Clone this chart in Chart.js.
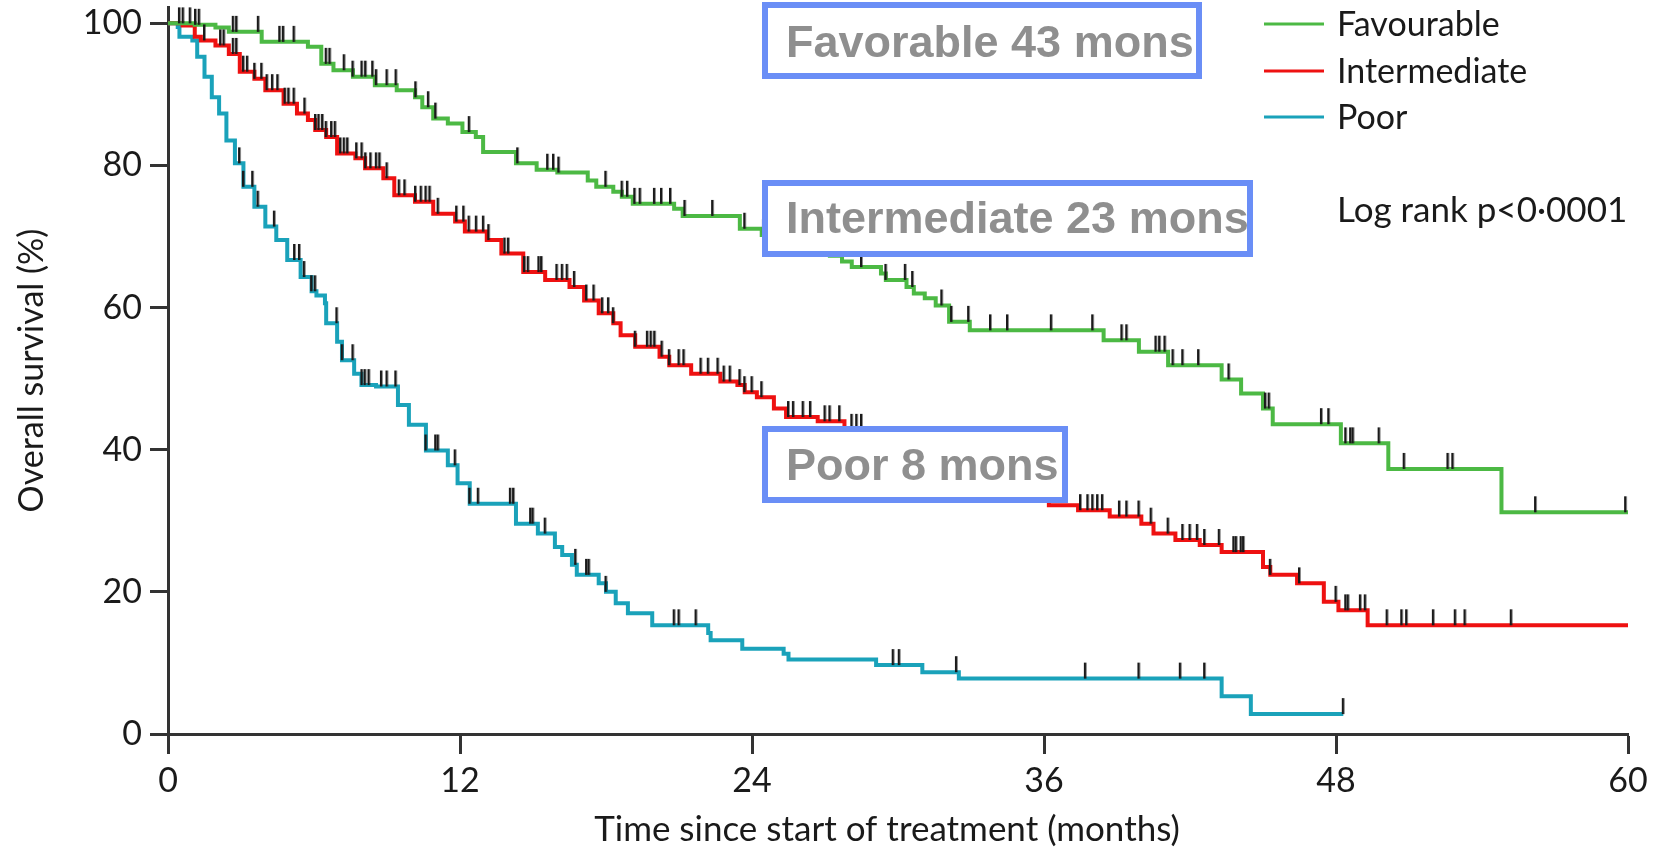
<!DOCTYPE html>
<html>
<head>
<meta charset="utf-8">
<script src="https://cdn.jsdelivr.net/npm/chart.js@4.4.1/dist/chart.umd.min.js"></script>
<style>
html, body { margin: 0; padding: 0; background: #fff; }
</style>
</head>
<body>
<canvas id="kmChart" width="1668" height="851"></canvas>
<script>
// Kaplan-Meier steps: month where the curve drops, survival (%) after that drop
var favTimes = [0, 1.1, 1.95, 2.5, 3.85, 5.75, 6.3, 6.8, 7.6, 8.5, 9.4, 10.15, 10.45, 10.9, 11.5, 12.1, 12.65, 12.95, 14.3, 15.15,
    16.0, 17.25, 17.6, 18.3, 18.65, 19.1, 20.8, 21.15, 23.5, 24.4, 25.3, 26.3, 27.2, 27.7, 28.1, 29.3, 29.5, 30.35, 30.65, 31.1,
    31.55, 32.1, 32.95, 38.45, 39.9, 41.1, 43.3, 44.1, 45.0, 45.4, 48.2, 50.15, 54.8, 60];
var favSurv = [100, 99.8, 99.4, 98.8, 97.4, 96.7, 94.3, 93.4, 92.5, 91.3, 90.6, 89.6, 88.2, 86.6, 85.9, 84.7, 84.0, 81.9, 80.3, 79.4,
    79.0, 77.9, 77.0, 76.3, 75.6, 74.6, 73.9, 72.9, 71.1, 70.2, 69.3, 68.2, 67.3, 66.5, 65.7, 64.8, 63.9, 62.9, 62.0, 61.3,
    60.3, 58.0, 56.8, 55.4, 53.8, 51.9, 49.9, 47.9, 45.8, 43.6, 40.9, 37.3, 31.2, 31.2];

var intTimes = [0, 0.6, 1.1, 1.35, 1.95, 2.5, 2.95, 3.55, 4.0, 4.75, 5.3, 5.75, 6.05, 6.5, 6.95, 7.7, 8.1, 8.85, 9.3, 10.15,
    10.9, 11.8, 12.2, 13.1, 13.7, 14.6, 15.5, 16.5, 17.1, 17.7, 18.3, 18.6, 19.2, 20.2, 20.6, 21.5, 22.7, 23.4, 23.7, 24.2,
    24.9, 25.4, 26.7, 27.8, 29.3, 30.5, 31.6, 32.7, 33.7, 34.7, 35.7, 36.2, 37.4, 38.7, 40.0, 40.5, 41.4, 42.4, 43.3, 45.0,
    45.3, 46.4, 47.5, 48.1, 49.3, 60];
var intSurv = [100, 99.7, 98.1, 97.6, 96.9, 95.7, 93.2, 92.2, 90.6, 88.7, 87.3, 86.4, 85.0, 84.0, 81.7, 81.0, 79.6, 78.2, 75.8, 74.9,
    73.2, 72.1, 70.7, 69.5, 67.6, 65.0, 63.9, 62.9, 61.0, 59.2, 57.8, 56.1, 54.5, 53.1, 51.9, 50.7, 49.6, 49.1, 48.1, 47.4,
    45.8, 44.6, 44.0, 42.8, 41.6, 40.2, 38.8, 37.5, 36.1, 34.7, 33.3, 32.2, 31.5, 30.6, 29.6, 28.2, 27.3, 26.6, 25.6, 23.5,
    22.4, 21.2, 18.6, 17.4, 15.3, 15.3];

var poorTimes = [0, 0.4, 0.47, 1.0, 1.2, 1.5, 1.8, 2.1, 2.4, 2.75, 3.1, 3.55, 4.0, 4.45, 4.9, 5.45, 5.9, 6.1, 6.45, 6.5,
    6.95, 7.15, 7.65, 7.95, 8.55, 9.45, 9.9, 10.6, 11.5, 11.9, 12.4, 14.3, 15.2, 15.9, 16.2, 16.6, 16.8, 17.7, 18.0, 18.4,
    18.9, 19.9, 22.2, 22.3, 23.6, 25.3, 25.5, 29.1, 31.0, 32.5, 43.3, 44.5, 48.3];
var poorSurv = [100, 99.5, 98.1, 97.6, 95.3, 92.5, 89.6, 87.3, 83.5, 80.3, 77.0, 74.2, 71.4, 69.5, 66.7, 64.3, 62.3, 61.7, 60.6, 57.8,
    55.2, 52.6, 50.7, 49.1, 48.9, 46.3, 43.5, 39.9, 37.8, 35.3, 32.4, 29.6, 28.2, 26.3, 25.2, 23.8, 22.4, 21.2, 20.0, 18.4,
    17.0, 15.3, 14.2, 13.2, 12.0, 11.3, 10.5, 9.7, 8.7, 7.8, 5.3, 2.8, 2.8];

// censored patients (months)
var favCensor = [0.47, 0.62, 0.91, 1.13, 1.28, 2.68, 2.82, 3.71, 4.59, 4.74, 5.18, 6.5, 6.65, 7.24, 7.6, 7.97, 8.12, 8.41, 8.56, 9.0,
    9.37, 10.18, 10.7, 11.0, 12.38, 14.37, 15.6, 15.84, 16.06, 17.99, 18.66, 18.88, 19.18, 19.4, 19.99, 20.28, 20.65, 21.24, 22.38, 23.7,
    24.47, 28.5, 29.5, 30.3, 30.6, 31.8, 32.2, 32.9, 33.8, 34.5, 36.3, 38.0, 39.2, 39.4, 40.6, 40.75, 40.97, 41.3, 41.7, 42.35,
    43.6, 45.1, 45.25, 47.4, 47.7, 48.4, 48.6, 48.7, 49.77, 50.8, 52.6, 52.8, 56.2, 59.9];
var intCensor = [1.5, 2.16, 2.3, 2.68, 2.82, 3.1, 3.26, 3.56, 3.85, 4.07, 4.29, 4.51, 4.81, 4.96, 5.18, 5.62, 6.06, 6.2, 6.35, 6.5,
    6.72, 6.87, 7.09, 7.24, 7.38, 7.75, 7.97, 8.12, 8.33, 8.56, 8.7, 9.0, 9.5, 9.73, 10.17, 10.4, 10.6, 10.76, 11.1, 11.86,
    12.15, 12.37, 12.67, 12.96, 13.18, 13.84, 13.99, 14.65, 14.8, 15.24, 15.35, 15.98, 16.2, 16.4, 16.7, 17.2, 17.5, 17.85, 18.1, 18.3,
    19.2, 19.7, 19.85, 20.0, 20.3, 20.6, 21.0, 21.2, 21.9, 22.2, 22.6, 22.85, 23.1, 23.5, 23.7, 24.0, 24.4, 25.5, 25.7, 26.1,
    26.4, 27.0, 27.2, 27.6, 28.1, 28.3, 28.5, 37.5, 37.8, 38.0, 38.2, 38.4, 39.1, 39.4, 39.9, 40.4, 41.1, 41.7, 42.0, 42.3,
    42.6, 43.2, 43.8, 43.9, 44.1, 44.2, 45.3, 46.5, 48.0, 48.4, 48.5, 49.0, 49.2, 50.1, 50.7, 50.9, 52.0, 52.9, 53.3, 55.2];
var poorCensor = [2.94, 3.1, 3.48, 3.7, 4.37, 5.2, 5.4, 5.6, 5.9, 6.05, 6.94, 7.16, 7.6, 7.97, 8.1, 8.26, 8.77, 9.0, 9.36, 10.6,
    11.0, 11.1, 11.8, 12.4, 12.75, 14.07, 14.2, 14.9, 15.0, 15.5, 16.75, 17.2, 17.3, 18.0, 20.8, 21.0, 21.7, 29.8, 30.05, 32.4,
    37.7, 39.9, 41.6, 42.6, 48.3];

var xTicks = [0, 12, 24, 36, 48, 60];
var yTicks = [0, 20, 40, 60, 80, 100];
var groupNames = ["Favourable", "Intermediate", "Poor"];
var groupColors = ["#4cb944", "#ee1111", "#1aa2ba"];
var medianLabels = ["Favorable 43 mons", "Intermediate 23 mons", "Poor 8 mons"];
var pValueText = "Log rank p<0\u00b70001";

function toPoints(times, surv) {
    return times.map(function (t, i) { return {x: t, y: surv[i]}; });
}
function survAt(times, surv, t) {
    var v = surv[0];
    for (var i = 0; i < times.length; i++) {
        if (times[i] <= t) v = surv[i];
    }
    return v;
}
function censorPoints(c, times, surv) {
    return c.map(function (t) { return {x: t, y: survAt(times, surv, t)}; });
}

// censor mark: short vertical bar standing on the curve
var tickMark = document.createElement('canvas');
tickMark.width = 5;
tickMark.height = 34;
var tctx = tickMark.getContext('2d');
tctx.fillStyle = '#1a1a1a';
tctx.fillRect(1, 1, 2.5, 16);

function curve(i, times, surv) {
    return {
        label: groupNames[i],
        data: toPoints(times, surv),
        borderColor: groupColors[i],
        backgroundColor: groupColors[i],
        borderWidth: 4,
        stepped: true,
        pointRadius: 0,
        fill: false,
        order: 2
    };
}
function censor(c, times, surv) {
    return {
        label: 'censored',
        data: censorPoints(c, times, surv),
        showLine: false,
        pointStyle: tickMark,
        pointRadius: 4,
        clip: false,
        order: 1
    };
}

var overlay = {
    id: 'overlay',
    afterDraw: function (chart) {
        var ctx = chart.ctx;
        ctx.save();
        // legend
        ctx.font = '34px Lato';
        ctx.textBaseline = 'middle';
        ctx.textAlign = 'left';
        var legY = [24, 71, 117];
        for (var i = 0; i < 3; i++) {
            ctx.strokeStyle = groupColors[i];
            ctx.lineWidth = 3;
            ctx.beginPath();
            ctx.moveTo(1264, legY[i]);
            ctx.lineTo(1324, legY[i]);
            ctx.stroke();
            ctx.fillStyle = '#1a1a1a';
            ctx.fillText(groupNames[i], 1337, legY[i] + 1);
        }
        ctx.font = '35px Lato';
        ctx.fillText(pValueText, 1337, 211);

        // median survival boxes
        var boxes = [[762, 2, 1202, 79, 57], [762, 180, 1253, 257, 233], [762, 426, 1068, 503, 480]];
        ctx.font = 'bold 45px "Liberation Sans", Arial, sans-serif';
        ctx.textBaseline = 'alphabetic';
        boxes.forEach(function (b, i) {
            ctx.fillStyle = '#ffffff';
            ctx.fillRect(b[0], b[1], b[2] - b[0], b[3] - b[1]);
            ctx.strokeStyle = '#6a8ef6';
            ctx.lineWidth = 6;
            ctx.strokeRect(b[0] + 3, b[1] + 3, b[2] - b[0] - 6, b[3] - b[1] - 6);
            ctx.fillStyle = '#8f8f8f';
            ctx.fillText(medianLabels[i], 786, b[4]);
        });
        ctx.restore();
    }
};

var ctxK = document.getElementById('kmChart').getContext('2d');
var kmChart = new Chart(ctxK, {
    type: 'line',
    data: {
        datasets: [
            curve(0, favTimes, favSurv),
            curve(1, intTimes, intSurv),
            curve(2, poorTimes, poorSurv),
            censor(favCensor, favTimes, favSurv),
            censor(intCensor, intTimes, intSurv),
            censor(poorCensor, poorTimes, poorSurv)
        ]
    },
    options: {
        responsive: false,
        animation: false,
        layout: { padding: { top: 7, right: 40, left: 0, bottom: 0 } },
        plugins: { legend: { display: false }, tooltip: { enabled: false } },
        scales: {
            x: {
                type: 'linear',
                min: 0,
                max: 60,
                afterBuildTicks: function (s) { s.ticks = xTicks.map(function (v) { return {value: v}; }); },
                afterFit: function (s) { s.height = 117; s.paddingLeft = 0; s.paddingRight = 0; },
                ticks: { font: { family: 'Lato', size: 34 }, color: '#1a1a1a', padding: 7, maxRotation: 0, autoSkip: false },
                grid: { drawOnChartArea: false, drawTicks: true, tickLength: 20, tickWidth: 3, tickColor: '#333' },
                border: { display: true, color: '#333', width: 3 },
                title: { display: true, text: 'Time since start of treatment (months)\u2002\u2009', font: { family: 'Lato', size: 35 },
                    color: '#1a1a1a', padding: { top: 0, bottom: 0 } }
            },
            y: {
                min: 0,
                max: 102.3,
                afterBuildTicks: function (s) { s.ticks = yTicks.map(function (v) { return {value: v}; }); },
                afterFit: function (s) { s.width = 168; s.paddingTop = 0; s.paddingBottom = 0; },
                ticks: { font: { family: 'Lato', size: 34 }, color: '#1a1a1a', padding: 8 },
                grid: { drawOnChartArea: false, drawTicks: true, tickLength: 18, tickWidth: 3, tickColor: '#333' },
                border: { display: true, color: '#333', width: 3 },
                title: { display: true, text: 'Overall survival (%)', font: { family: 'Lato', size: 34 },
                    color: '#1a1a1a', padding: { top: 12, bottom: 0 } }
            }
        }
    },
    plugins: [overlay]
});
</script>
</body>
</html>
